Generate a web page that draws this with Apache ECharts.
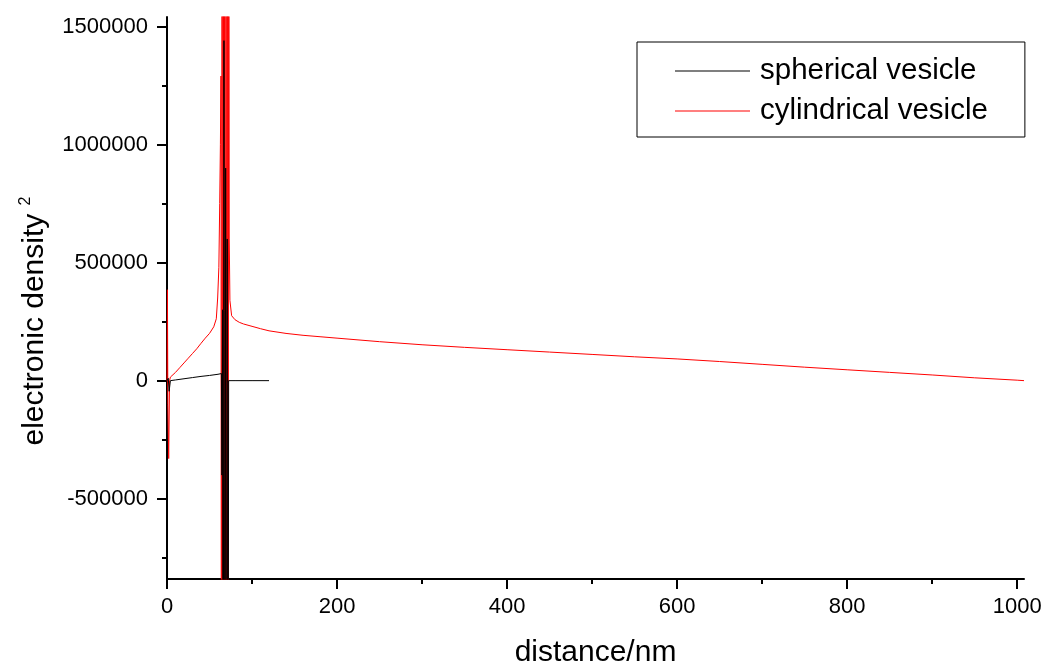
<!DOCTYPE html>
<html>
<head>
<meta charset="utf-8">
<script src="https://cdn.jsdelivr.net/npm/echarts@6/dist/echarts.min.js"></script>
<style>html,body{margin:0;padding:0;background:#fff}#c{width:1044px;height:664px}</style>
</head>
<body>
<div id="c"></div>
<script>
// ---- data ----
var sphX = [0, 1.5, 2.5, 4, 10, 20, 30, 40, 50, 60, 64, 64.6, 65.3, 66, 67, 68, 69, 70, 70.8, 71.5, 72.5, 80, 100, 120];
var sphY = [0, 10000, -45000, 0, 3000, 8000, 13000, 18000, 22000, 27000, 30000, -400000, 300000, -3000000, 1440000, -3000000, 900000, -3000000, 600000, -3000000, 0, 0, 0, 0];

var cylX = [0, 0.5, 1, 2, 3, 4, 5, 10, 15, 20, 25, 30, 35, 40, 45, 50, 55, 58, 59.6, 61, 62, 62.8, 63.5, 64.1, 64.8, 65.5, 66.3, 67.1, 67.9, 68.7, 69.5, 70.3, 71.1, 71.9, 72.6, 73.2, 74, 76, 80, 85, 90, 100, 110, 120, 140, 160, 180, 200, 250, 300, 350, 400, 450, 500, 550, 600, 650, 700, 750, 800, 850, 900, 950, 1000, 1008];
var cylY = [0, 385000, -100000, -330000, 0, 15000, 20000, 35000, 55000, 75000, 95000, 115000, 135000, 158000, 180000, 200000, 228000, 262000, 350000, 480000, 750000, 1000000, 1290000, -3000000, 3000000, -3000000, 3000000, -3000000, 3000000, -3000000, 3000000, -3000000, 3000000, -3000000, 3000000, 600000, 340000, 275000, 258000, 247000, 240000, 230000, 220000, 211000, 200000, 192000, 186000, 180000, 165000, 152000, 141000, 131000, 121000, 111000, 101000, 92000, 81000, 69000, 57000, 46000, 35000, 24000, 12000, 2000, 0];

var xMajor = [0, 200, 400, 600, 800, 1000];
var xMinor = [100, 300, 500, 700, 900];
var yMajor = [-500000, 0, 500000, 1000000, 1500000];
var yMinor = [-750000, -250000, 250000, 750000, 1250000];

var seriesNames = ['spherical vesicle', 'cylindrical vesicle'];

function pairs(xs, ys) { return xs.map(function (x, i) { return [x, ys[i]]; }); }
function plain(v) { return String(v); }

var FONT = '"Liberation Sans", Arial, sans-serif';
var X_MIN = 0, X_MAX = 1008, Y_MIN = -840000, Y_MAX = 1540000;
var AXW = 2;

var chart = echarts.init(document.getElementById('c'), null, { renderer: 'canvas' });
chart.setOption({
  animation: false,
  backgroundColor: '#fff',
  grid: { left: 167, right: 20, top: 17, bottom: 85, containLabel: false, outerBoundsMode: 'none' },
  legend: {
    orient: 'vertical',
    left: 637, top: 42,
    padding: [14, 37, 11, 38],
    borderColor: '#000', borderWidth: 1,
    itemWidth: 75, itemHeight: 30, itemGap: 10,
    textStyle: { fontFamily: FONT, fontSize: 29.5, color: '#000', padding: [0, 0, 0, 5] },
    data: seriesNames.map(function (n) { return { name: n, icon: 'path://M0,0 L75,0 L75,1 L0,1 Z' }; })
  },
  xAxis: [{
    type: 'value', min: X_MIN, max: X_MAX,
    name: 'distance/nm', nameLocation: 'middle', nameGap: 59,
    nameTextStyle: { fontFamily: FONT, fontSize: 30, color: '#000' },
    axisLine: { onZero: false, lineStyle: { color: '#000', width: AXW } },
    axisTick: { length: 10, customValues: xMajor, lineStyle: { color: '#000', width: AXW } },
    axisLabel: { customValues: xMajor, formatter: plain, margin: 17, fontFamily: FONT, fontSize: 22, color: '#000' },
    splitLine: { show: false }
  }, {
    type: 'value', min: X_MIN, max: X_MAX, position: 'bottom',
    axisLine: { show: false, onZero: false },
    axisTick: { length: 5, customValues: xMinor, lineStyle: { color: '#000', width: AXW } },
    axisLabel: { show: false }, splitLine: { show: false }
  }],
  yAxis: [{
    type: 'value', min: Y_MIN, max: Y_MAX,
    name: 'electronic density {sup|2}', nameLocation: 'middle', nameGap: 115, nameRotate: 90,
    nameTextStyle: {
      fontFamily: FONT, fontSize: 30, color: '#000',
      padding: [0, 46, 0, 0],
      rich: { sup: { fontFamily: FONT, fontSize: 16, color: '#000', padding: [0, 0, 18, 0] } }
    },
    axisLine: { onZero: false, lineStyle: { color: '#000', width: AXW } },
    axisTick: { length: 10, customValues: yMajor, lineStyle: { color: '#000', width: AXW } },
    axisLabel: { customValues: yMajor, formatter: plain, margin: 19, fontFamily: FONT, fontSize: 22, color: '#000' },
    splitLine: { show: false }
  }, {
    type: 'value', min: Y_MIN, max: Y_MAX, position: 'left',
    axisLine: { show: false, onZero: false },
    axisTick: { length: 5, customValues: yMinor, lineStyle: { color: '#000', width: AXW } },
    axisLabel: { show: false }, splitLine: { show: false }
  }],
  series: [{
    name: seriesNames[0], type: 'line', z: 3,
    data: pairs(sphX, sphY),
    showSymbol: false, symbol: 'none', clip: true,
    lineStyle: { color: '#000', width: 1 }, itemStyle: { color: '#000' }
  }, {
    name: seriesNames[1], type: 'line', z: 2,
    data: pairs(cylX, cylY),
    showSymbol: false, symbol: 'none', clip: true,
    lineStyle: { color: '#ff0000', width: 1 }, itemStyle: { color: '#ff0000' }
  }]
});
</script>
</body>
</html>
